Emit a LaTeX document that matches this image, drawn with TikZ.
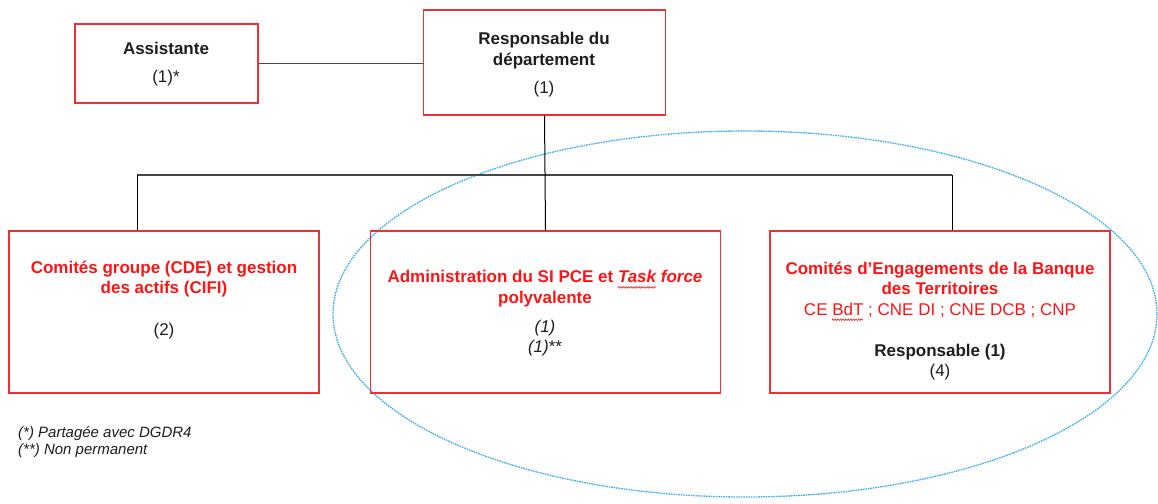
\documentclass[tikz,border=0pt]{standalone}
\usepackage{fontspec}
\setmainfont{Liberation Sans}
\usetikzlibrary{decorations.pathmorphing}
\definecolor{boxred}{RGB}{238,48,52}
\definecolor{txtred}{RGB}{250,22,22}
\definecolor{ink}{RGB}{30,30,30}
\definecolor{ellblue}{RGB}{60,172,238}
\definecolor{lineg}{RGB}{70,70,70}
\tikzset{
  box/.style={draw=boxred, line width=1.2pt, rectangle, inner sep=0pt},
  lbl/.style={align=center, inner sep=0pt, text=ink, font=\fontsize{17}{20.5}\selectfont},
  foot/.style={align=left, inner sep=0pt, text=ink, font=\fontsize{15}{17.5}\selectfont\itshape, anchor=west},
  conn/.style={draw=black, line width=1pt},
  bus/.style={draw=lineg, line width=2pt},
  wavy/.style={draw=txtred, line width=0.6pt, decorate, decoration={zigzag, segment length=2.6pt, amplitude=0.8pt}},
}
\newcommand{\rt}[1]{\textcolor{txtred}{\textbf{#1}}}
\newsavebox{\wvbox}
\newcommand{\wv}[1]{\sbox\wvbox{#1}\usebox\wvbox\llap{\tikz[baseline=0pt,x=1pt,y=1pt]{\path (0,0) -- (\the\wd\wvbox,0);\draw[wavy] (0,-4.5) -- (\the\wd\wvbox,-4.5);}}}
\begin{document}
\begin{tikzpicture}[x=1pt,y=-1pt]
\path[use as bounding box, fill=white] (0,0) rectangle (1158,503);
% ellipse
\draw[ellblue, line width=1.3pt, dash pattern=on 1.6pt off 0.9pt] (745,314) ellipse [x radius=412, y radius=183];
% boxes
\node[box, minimum width=183pt, minimum height=79pt] (assist) at (166.5,63.5) {};
\node[box, minimum width=242pt, minimum height=105pt] (resp) at (544.5,62.5) {};
\node[box, minimum width=310pt, minimum height=162pt] (left) at (164,312) {};
\node[box, minimum width=350pt, minimum height=162pt] (mid) at (545.5,312) {};
\node[box, minimum width=340pt, minimum height=162pt] (right) at (940,312) {};
% texts
\node[lbl] (tassist) at (166,64.5) {\textbf{Assistante}\\[7.5pt](1)*};
\node[lbl] (tresp) at (544,64.5) {\textbf{Responsable du}\\\textbf{département}\\[7.5pt](1)};
\node[lbl] (tleft) at (164,300) {\rt{Comités groupe (CDE) et gestion}\\\rt{des actifs (CIFI)}\\[21.5pt](2)};
\node[lbl] (tmid) at (545,313.5) {\rt{Administration du SI PCE et \textit{\wv{Task} force}}\\\rt{polyvalente}\\[8.5pt]\textit{(1)}\\\textit{(1)}**};
\node[lbl] (tright) at (940,321) {\rt{Comités d’Engagements de la Banque}\\\rt{des Territoires}\\\textcolor{txtred}{CE \wv{BdT} ; CNE DI ; CNE DCB ; CNP}\\[20.5pt]\textbf{Responsable (1)}\\(4)};
\node[foot] (fn) at (18,442) {(*) Partagée avec DGDR4\\(**) Non permanent};
% connectors
\coordinate (busL) at (137,175);
\coordinate (busR) at (952,175);
\draw[draw=lineg, line width=1.6pt] (assist.east) -- (assist.east -| resp.west);
\draw[bus] (busL) -- (busR);
\draw[conn] (resp.south) -- (mid.north);
\draw[conn] (busL) -- (busL |- left.north);
\draw[conn] (busR) -- (busR |- right.north);
\end{tikzpicture}
\end{document}
